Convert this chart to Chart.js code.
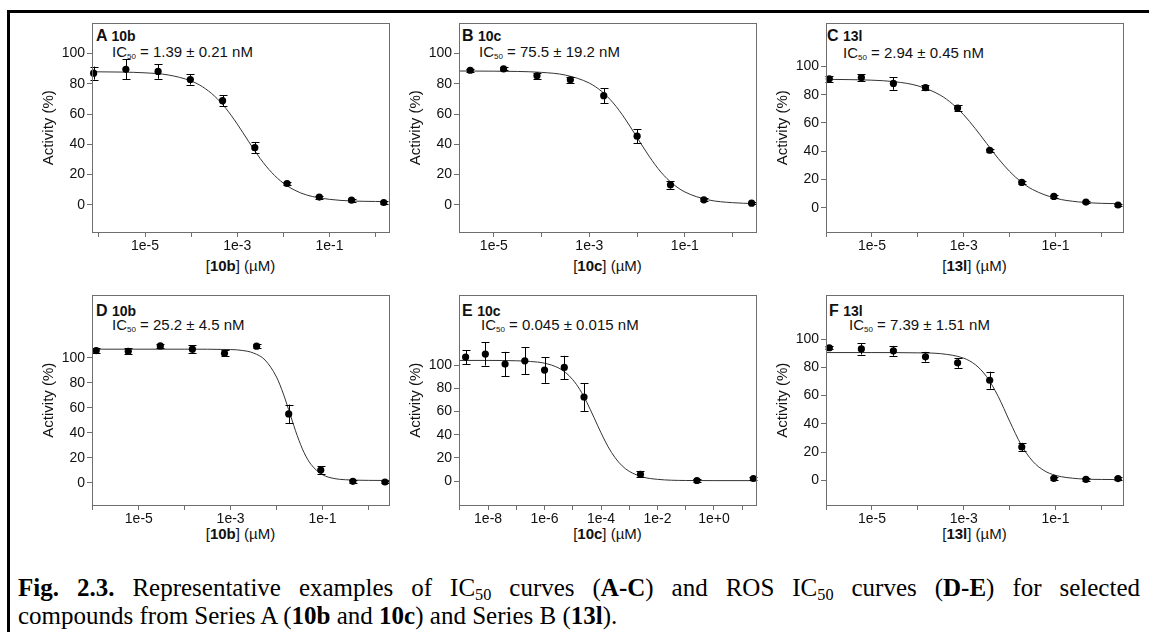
<!DOCTYPE html>
<html>
<head>
<meta charset="utf-8">
<script src="https://cdn.jsdelivr.net/npm/chart.js@4.4.0/dist/chart.umd.min.js"></script>
<style>
html,body{margin:0;padding:0;background:#fff;}
body{width:1149px;height:632px;overflow:hidden;position:relative;font-family:"Liberation Sans",Arial,sans-serif;color:#111;}
.frame{position:absolute;left:7px;top:10px;width:1300px;height:800px;border:3px solid #000;box-sizing:border-box;}
canvas.cv{position:absolute;}
.t{position:absolute;white-space:nowrap;line-height:1;}
.ttl{font-weight:bold;font-size:16px;}
.ttl span{font-size:14px;}
.ic{font-size:15px;}
.ic sub{font-size:8px;vertical-align:-2px;line-height:0;}
.xt{font-size:15px;width:297px;text-align:center;}
.cap{position:absolute;left:18px;width:1122px;font-family:"Liberation Serif","Times New Roman",serif;font-size:25px;line-height:28px;color:#000;}
.cap .l1{text-align:justify;text-align-last:justify;white-space:nowrap;}
.cap .l2{white-space:nowrap;}
.cap sub{font-size:0.65em;vertical-align:-0.25em;line-height:0;}
</style>
</head>
<body>
<div class="frame"></div>

<!-- panel titles -->
<div class="t ttl" style="left:96px;top:28px;">A <span>10b</span></div>
<div class="t ic" style="left:112px;top:44px;">IC<sub>50</sub> = 1.39 ± 0.21 nM</div>
<div class="t ttl" style="left:462px;top:28px;">B <span>10c</span></div>
<div class="t ic" style="left:479px;top:44px;">IC<sub>50</sub> = 75.5 ± 19.2 nM</div>
<div class="t ttl" style="left:827px;top:28px;">C <span>13l</span></div>
<div class="t ic" style="left:843px;top:45px;">IC<sub>50</sub> = 2.94 ± 0.45 nM</div>
<div class="t ttl" style="left:96px;top:303px;">D <span>10b</span></div>
<div class="t ic" style="left:112px;top:317px;">IC<sub>50</sub> = 25.2 ± 4.5 nM</div>
<div class="t ttl" style="left:462px;top:303px;">E <span>10c</span></div>
<div class="t ic" style="left:481px;top:317px;">IC<sub>50</sub> = 0.045 ± 0.015 nM</div>
<div class="t ttl" style="left:829px;top:303px;">F <span>13l</span></div>
<div class="t ic" style="left:849px;top:317px;">IC<sub>50</sub> = 7.39 ± 1.51 nM</div>

<!-- x axis titles -->
<div class="t xt" style="left:92px;top:258px;">[<b>10b</b>] (µM)</div>
<div class="t xt" style="left:459px;top:258px;">[<b>10c</b>] (µM)</div>
<div class="t xt" style="left:826px;top:258px;">[<b>13l</b>] (µM)</div>
<div class="t xt" style="left:92px;top:526px;">[<b>10b</b>] (µM)</div>
<div class="t xt" style="left:459px;top:526px;">[<b>10c</b>] (µM)</div>
<div class="t xt" style="left:826px;top:526px;">[<b>13l</b>] (µM)</div>

<div class="cap" style="top:574px;">
<div class="l1"><b>Fig. 2.3.</b> Representative examples of IC<sub>50</sub> curves (<b>A-C</b>) and ROS IC<sub>50</sub> curves (<b>D-E</b>) for selected</div>
<div class="l2">compounds from Series A (<b>10b</b> and <b>10c</b>) and Series B (<b>13l</b>).</div>
</div>

<script>
// ---------- tick definitions ----------
const yTicks = [0, 20, 40, 60, 80, 100];
const xTickExp6 = [-6, -5, -4, -3, -2, -1, 0];
const xTickExpB = [-5, -4, -3, -2, -1, 0];
const xTickExpE = [-9, -8, -7, -6, -5, -4, -3, -2, -1, 0, 1];
const xLabelExp = [-5, -3, -1];
const xLabelExpE = [-8, -6, -4, -2, 0];

// ---------- Panel A: 10b ----------
const concA = [7.68e-7, 3.84e-6, 1.92e-5, 9.6e-5, 4.8e-4, 2.4e-3, 0.012, 0.06, 0.3, 1.5];
const actA  = [87.1, 89.6, 88.2, 82.9, 68.9, 37.8, 14.1, 5.1, 3.1, 1.5];
const errA  = [4.3, 6.6, 4.8, 3.4, 3.7, 3.5, 1.2, 1.0, 1.0, 0.8];
const curveLogA = [-6.15, -5.5, -5, -4.5, -4, -3.75, -3.5, -3.25, -3, -2.75, -2.5, -2.25, -2, -1.75, -1.5, -1, -0.5, 0, 0.2];
const curveActA = [88, 87.8, 87.3, 85.9, 81.9, 78, 72.1, 63.9, 53.4, 41.7, 30.5, 21.2, 14.3, 9.6, 6.5, 3.6, 2.5, 2.2, 2.1];

// ---------- Panel B: 10c ----------
const concB = [3.2e-6, 1.6e-5, 8e-5, 4e-4, 2e-3, 0.01, 0.05, 0.25, 2.5];
const actB  = [89.0, 89.9, 85.3, 82.7, 72.2, 45.4, 13.2, 3.3, 1.1];
const errB  = [1.0, 1.0, 2.2, 2.0, 5.0, 4.5, 2.5, 1.0, 0.8];
const curveLogB = [-5.73, -5, -4.5, -4, -3.5, -3, -2.75, -2.5, -2.25, -2, -1.75, -1.5, -1.25, -1, -0.5, 0, 0.45];
const curveActB = [88.5, 88.4, 88.2, 87.6, 85.8, 80.5, 75.2, 67.4, 56.8, 44.5, 32.2, 21.6, 13.8, 8.5, 3.2, 1.4, 0.8];

// ---------- Panel C: 13l ----------
const concC = [1.18e-6, 5.89e-6, 2.94e-5, 1.47e-4, 7.36e-4, 3.68e-3, 0.0184, 0.092, 0.46, 2.3];
const actC  = [91.3, 92.2, 88.0, 85.0, 70.6, 40.7, 17.9, 8.0, 4.0, 1.9];
const errC  = [2.0, 2.5, 4.5, 2.0, 2.0, 1.0, 1.0, 1.0, 1.0, 0.5];
const curveLogC = [-6, -5.5, -5, -4.5, -4, -3.5, -3.25, -3, -2.75, -2.5, -2.25, -2, -1.75, -1.5, -1, -0.5, 0, 0.4];
const curveActC = [90.9, 90.7, 90.3, 89.2, 86.3, 79.5, 73.6, 65.8, 56.1, 45.5, 34.9, 25.7, 18.3, 12.9, 6.7, 4.1, 3.1, 2.8];

// ---------- Panel D: 10b (ROS) ----------
const concD = [1.18e-6, 5.89e-6, 2.94e-5, 1.47e-4, 7.36e-4, 3.68e-3, 0.0184, 0.092, 0.46, 2.3];
const actD  = [105.9, 105.3, 109.6, 107.0, 103.7, 109.4, 55.2, 10.4, 1.3, 0.8];
const errD  = [2.0, 2.5, 1.5, 3.0, 2.5, 1.5, 7.5, 3.0, 1.0, 0.5];
const curveLogD = [-6.02, -4, -3, -2.75, -2.5, -2.25, -2, -1.85, -1.7, -1.55, -1.4, -1.25, -1, -0.75, -0.5, 0, 0.45];
const curveActD = [107, 107, 106.7, 106, 103.9, 98.3, 84.7, 71.1, 54.5, 37.9, 24.3, 14.9, 6.7, 3.6, 2.6, 2.1, 2];

// ---------- Panel E: 10c (ROS) ----------
const concE = [1.6e-9, 8e-9, 4e-8, 2e-7, 1e-6, 5e-6, 2.5e-5, 2.5e-3, 0.25, 25];
const actE  = [106.9, 109.5, 100.9, 103.7, 95.7, 98.0, 72.5, 6.0, 0.6, 2.3];
const errE  = [6.0, 10.0, 10.5, 11.5, 11.0, 10.0, 12.0, 2.5, 1.0, 1.0];
const curveLogE = [-9.03, -8, -7, -6.5, -6, -5.5, -5.25, -5, -4.75, -4.5, -4.25, -4, -3.75, -3.5, -3.25, -3, -2.5, -2, -1, 0, 1.45];
const curveActE = [104, 104, 103.7, 103.1, 101.6, 97.5, 93.5, 87.4, 78.9, 67.8, 54.9, 41.7, 29.7, 20.2, 13.2, 8.5, 3.5, 1.6, 0.6, 0.5, 0.5];

// ---------- Panel F: 13l (ROS) ----------
const concF = [1.18e-6, 5.89e-6, 2.94e-5, 1.47e-4, 7.36e-4, 3.68e-3, 0.0184, 0.092, 0.46, 2.3];
const actF  = [93.9, 93.1, 91.7, 87.5, 83.2, 70.9, 23.6, 1.4, 0.7, 1.2];
const errF  = [1.0, 4.0, 3.5, 3.5, 3.5, 6.0, 3.0, 1.0, 1.0, 1.0];
const curveLogF = [-6, -5, -4, -3.5, -3, -2.75, -2.5, -2.25, -2, -1.75, -1.5, -1.25, -1, -0.5, 0, 0.45];
const curveActF = [90.5, 90.5, 90.3, 89.7, 86.5, 82, 73.4, 59.5, 41.9, 25.3, 13.6, 6.9, 3.5, 1.1, 0.6, 0.5];

// ---------- layout (positions only) ----------
const panels = [
  {conc: concA, act: actA, err: errA, cl: curveLogA, ca: curveActA, box: [92, 23, 297, 209], xr: [-6.15, 0.29], yr: [-18, 120], xt: xTickExp6, xl: xLabelExp},
  {conc: concB, act: actB, err: errB, cl: curveLogB, ca: curveActB, box: [459, 23, 297, 209], xr: [-5.73, 0.49], yr: [-18, 120], xt: xTickExpB, xl: xLabelExp},
  {conc: concC, act: actC, err: errC, cl: curveLogC, ca: curveActC, box: [826, 23, 297, 209], xr: [-6.0, 0.47], yr: [-17.2, 130.5], xt: xTickExp6, xl: xLabelExp},
  {conc: concD, act: actD, err: errD, cl: curveLogD, ca: curveActD, box: [92, 295, 297, 210], xr: [-6.02, 0.45], yr: [-17.6, 150], xt: xTickExp6, xl: xLabelExp},
  {conc: concE, act: actE, err: errE, cl: curveLogE, ca: curveActE, box: [459, 295, 297, 210], xr: [-9.03, 1.49], yr: [-20.5, 160], xt: xTickExpE, xl: xLabelExpE},
  {conc: concF, act: actF, err: errF, cl: curveLogF, ca: curveActF, box: [826, 295, 297, 210], xr: [-6.0, 0.47], yr: [-17.5, 131], xt: xTickExp6, xl: xLabelExp}
];

const AXIS_W = 52, PAD_T = 10, PAD_R = 10, AXIS_H = 40;
const GRAY = '#6e6e6e';
Chart.defaults.font.family = '"Liberation Sans", Arial, sans-serif';
Chart.defaults.color = '#111';

function expLabel(e) { return e >= 0 ? '1e+' + e : '1e' + e; }

panels.forEach((p, idx) => {
  const [bl, bt, bw, bh] = p.box;
  const c = document.createElement('canvas');
  c.className = 'cv';
  c.width = AXIS_W + bw + PAD_R;
  c.height = PAD_T + bh + AXIS_H;
  c.style.left = (bl - AXIS_W) + 'px';
  c.style.top = (bt - PAD_T) + 'px';
  document.body.appendChild(c);

  const pts = p.conc.map((x, i) => ({x: x, y: p.act[i]}));
  const curve = p.cl.map((l, i) => ({x: Math.pow(10, l), y: p.ca[i]}));

  const boxPlugin = {
    id: 'box' + idx,
    afterDraw(chart) {
      const a = chart.chartArea, ctx = chart.ctx;
      ctx.save();
      ctx.strokeStyle = GRAY;
      ctx.lineWidth = 1;
      ctx.strokeRect(Math.round(a.left) + 0.5, Math.round(a.top) + 0.5, Math.round(a.right - a.left), Math.round(a.bottom - a.top));
      ctx.restore();
    }
  };
  const errPlugin = {
    id: 'err' + idx,
    afterDatasetsDraw(chart) {
      const xs = chart.scales.x, ys = chart.scales.y, ctx = chart.ctx;
      ctx.save();
      ctx.strokeStyle = '#000';
      ctx.lineWidth = 1;
      p.conc.forEach((x, i) => {
        const px = Math.round(xs.getPixelForValue(x)) + 0.5;
        const yTop = ys.getPixelForValue(p.act[i] + p.err[i]);
        const yBot = ys.getPixelForValue(p.act[i] - p.err[i]);
        ctx.beginPath();
        ctx.moveTo(px, yTop); ctx.lineTo(px, yBot);
        ctx.moveTo(px - 4, Math.round(yTop) + 0.5); ctx.lineTo(px + 4, Math.round(yTop) + 0.5);
        ctx.moveTo(px - 4, Math.round(yBot) + 0.5); ctx.lineTo(px + 4, Math.round(yBot) + 0.5);
        ctx.stroke();
      });
      ctx.restore();
    }
  };

  new Chart(c, {
    type: 'scatter',
    data: {
      datasets: [
        {type: 'line', data: curve, borderColor: '#333', borderWidth: 1, pointRadius: 0, fill: false,
         cubicInterpolationMode: 'monotone', clip: false, order: 2},
        {type: 'scatter', data: pts, backgroundColor: '#000', borderColor: '#000', borderWidth: 0,
         pointRadius: 3.6, pointHoverRadius: 3.6, clip: false, order: 1}
      ]
    },
    options: {
      responsive: false, animation: false, devicePixelRatio: 1,
      layout: {padding: {top: PAD_T, right: PAD_R, left: 0, bottom: 0}},
      plugins: {legend: {display: false}, tooltip: {enabled: false}},
      events: [],
      scales: {
        x: {
          type: 'logarithmic', position: 'bottom', bounds: 'data',
          min: Math.pow(10, p.xr[0]), max: Math.pow(10, p.xr[1]),
          afterBuildTicks: s => { s.ticks = p.xt.map(e => ({value: Math.pow(10, e)})); },
          afterFit: s => { s.height = AXIS_H; },
          ticks: {autoSkip: false, maxRotation: 0, minRotation: 0, padding: 1, font: {size: 14}, color: '#111',
                  callback: v => { const e = Math.round(Math.log10(v)); return p.xl.includes(e) ? expLabel(e) : ''; }},
          grid: {display: true, drawOnChartArea: false, drawTicks: true, tickLength: 5, color: GRAY},
          border: {display: false}
        },
        y: {
          type: 'linear', position: 'left', min: p.yr[0], max: p.yr[1],
          afterBuildTicks: s => { s.ticks = yTicks.map(v => ({value: v})); },
          afterFit: s => { s.width = AXIS_W; },
          ticks: {padding: 2, font: {size: 14}, color: '#111', callback: v => String(v)},
          grid: {display: true, drawOnChartArea: false, drawTicks: true, tickLength: 5, color: GRAY},
          border: {display: false},
          title: {display: true, text: 'Activity (%)', font: {size: 15}, padding: 0, color: '#111'}
        }
      }
    },
    plugins: [boxPlugin, errPlugin]
  });
});
</script>
</body>
</html>
